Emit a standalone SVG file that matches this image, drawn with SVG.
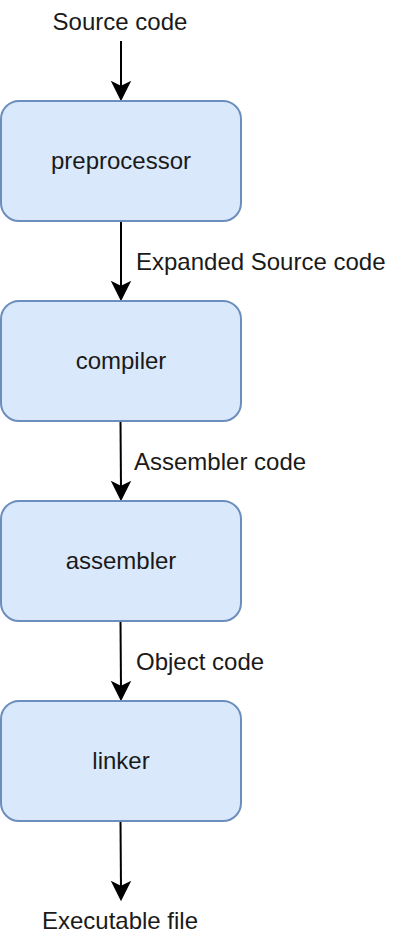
<svg xmlns="http://www.w3.org/2000/svg" width="402" height="942" viewBox="0 0 402 942">
  <style>
    .box { fill: #dae8fc; stroke: #6c8ebf; stroke-width: 2; }
    .t { font-family: "Liberation Sans", Arial, Helvetica, sans-serif; font-size: 24px; fill: #1a1a1a; }
    .c { text-anchor: middle; }
    .edge { stroke: #000; stroke-width: 2; fill: none; }
    .head { fill: #000; stroke: #000; stroke-width: 2; stroke-linejoin: miter; }
  </style>
  <rect width="402" height="942" fill="#ffffff"/>
  <g id="connectors">
    <line class="edge" x1="121" y1="41" x2="121" y2="90"/>
    <path class="head" d="M121,99 L113,83 L121,87 L129,83 Z"/>
    <line class="edge" x1="121" y1="221" x2="121" y2="290"/>
    <path class="head" d="M121,299 L113,283 L121,287 L129,283 Z"/>
    <line class="edge" x1="120.5" y1="421" x2="121" y2="490"/>
    <path class="head" d="M121,499 L113,483 L121,487 L129,483 Z"/>
    <line class="edge" x1="120.5" y1="621" x2="121" y2="690"/>
    <path class="head" d="M121,699 L113,683 L121,687 L129,683 Z"/>
    <line class="edge" x1="120.5" y1="821" x2="121" y2="890"/>
    <path class="head" d="M121,899 L113,883 L121,887 L129,883 Z"/>
    <text class="t" x="136" y="270">Expanded Source code</text>
    <text class="t" x="134" y="470">Assembler code</text>
    <text class="t" x="136" y="670">Object code</text>
  </g>
  <g id="source">
    <text class="t c" x="120" y="30">Source code</text>
  </g>
  <g id="preprocessor">
    <rect class="box" x="1" y="101" width="240" height="120" rx="18" ry="18"/>
    <text class="t c" x="121" y="169">preprocessor</text>
  </g>
  <g id="compiler">
    <rect class="box" x="1" y="301" width="240" height="120" rx="18" ry="18"/>
    <text class="t c" x="121" y="369">compiler</text>
  </g>
  <g id="assembler">
    <rect class="box" x="1" y="501" width="240" height="120" rx="18" ry="18"/>
    <text class="t c" x="121" y="569">assembler</text>
  </g>
  <g id="linker">
    <rect class="box" x="1" y="701" width="240" height="120" rx="18" ry="18"/>
    <text class="t c" x="121" y="769">linker</text>
  </g>
  <g id="executable">
    <text class="t c" x="120" y="929">Executable file</text>
  </g>
</svg>
